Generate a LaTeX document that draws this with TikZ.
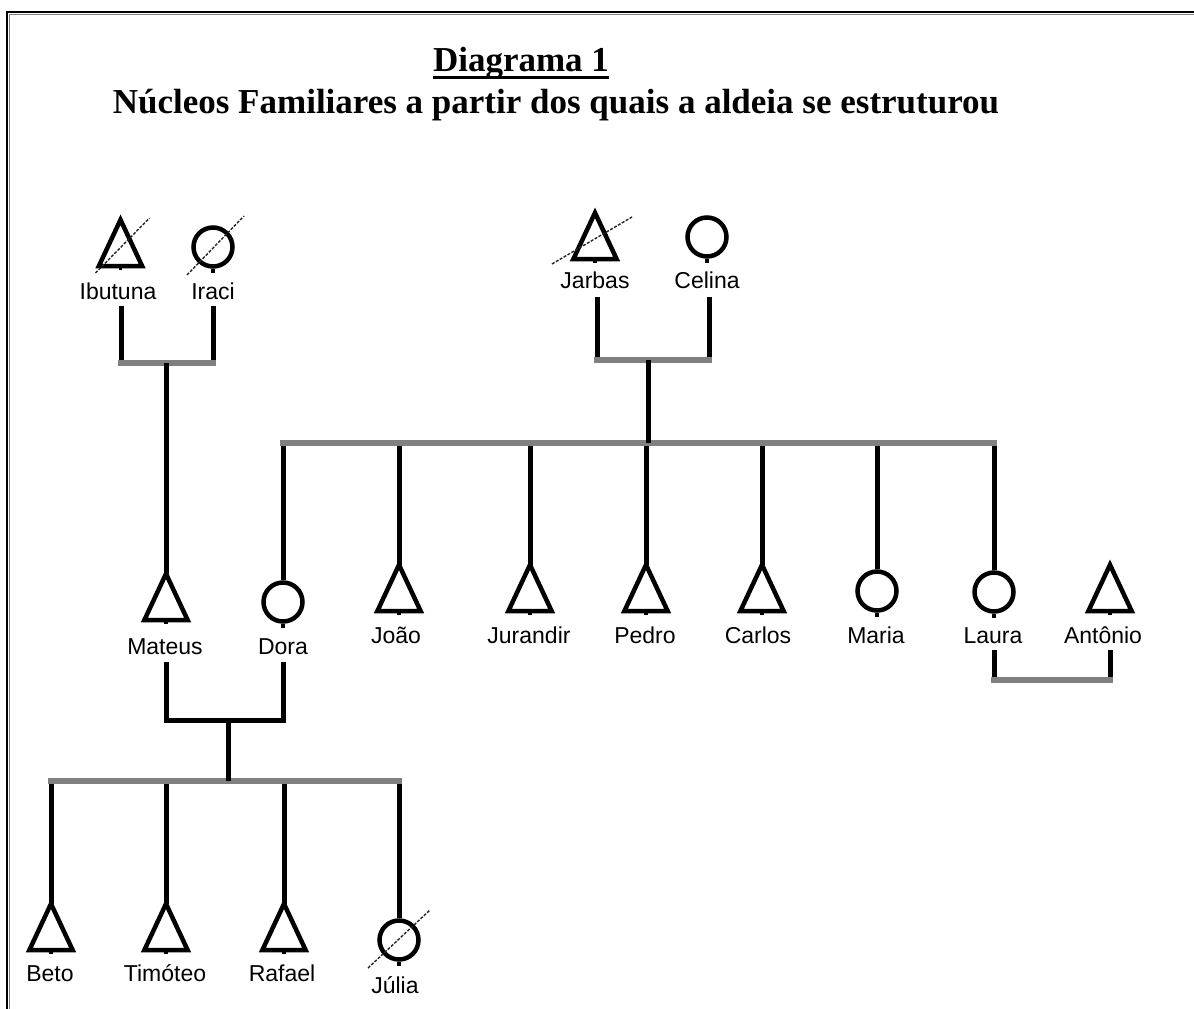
\documentclass[tikz,border=0pt]{standalone}
\usepackage{fontspec}
\setmainfont{Liberation Serif}
\newfontfamily\lblfont{Liberation Sans}
\begin{document}
\begin{tikzpicture}[x=1pt,y=-1pt,
  kin/.style={line width=5pt},
  bar/.style={line width=6pt, draw=gray, line cap=rect},
  male/.style={rectangle, minimum width=43pt, minimum height=46pt, inner sep=0pt},
  female/.style={circle, draw, line width=4.5pt, minimum size=39pt, inner sep=0pt},
  sym/.style={line width=4.5pt},
  dead/.style={line width=1.4pt, draw=black!85, dash pattern=on 3pt off 1.5pt},
  lbl/.style={anchor=base, inner sep=0pt, font=\lblfont\fontsize{23}{27}\selectfont},
  ttl/.style={anchor=base, inner sep=0pt, font=\fontsize{35}{40}\selectfont\bfseries},
]
\useasboundingbox (0,0) rectangle (1194,1009);

% page frame
\draw[line width=2pt] (7,1012) -- (7,12) -- (1196,12);
\draw[gray, line width=1pt] (9.5,1012) -- (9.5,14.5) -- (1196,14.5);

% headings
\node[ttl] (title) at (521,71) {Diagrama 1};
\draw[line width=2.8pt] ([yshift=-6.5pt]title.base west) -- ([yshift=-6.5pt]title.base east);
\node[ttl] (subtitle) at (556,113) {Núcleos Familiares a partir dos quais a aldeia se estruturou};

% people: triangles (men) and circles (women)
\node[male]   (ibutuna)  at (120.5,243) {};
\node[female] (iraci)    at (213,247) {};
\node[male]   (jarbas)   at (595,236) {};
\node[female] (celina)   at (707,237) {};
\node[male]   (mateus)   at (166,597) {};
\node[female] (dora)     at (283,602) {};
\node[male]   (joao)     at (399,588) {};
\node[male]   (jurandir) at (530,588) {};
\node[male]   (pedro)    at (646,588) {};
\node[male]   (carlos)   at (762,588) {};
\node[female] (maria)    at (877,591) {};
\node[female] (laura)    at (994,592) {};
\node[male]   (antonio)  at (1110,588) {};
\node[male]   (beto)     at (51,927) {};
\node[male]   (timoteo)  at (166,927) {};
\node[male]   (rafael)   at (284,927) {};
\node[female] (julia)    at (399,940) {};

\foreach \p in {ibutuna,jarbas,mateus,joao,jurandir,pedro,carlos,antonio,beto,timoteo,rafael}
  \draw[sym] (\p.north) -- (\p.south east) -- (\p.south west) -- cycle;
\foreach \p in {ibutuna,jarbas,mateus,joao,jurandir,pedro,carlos,antonio,beto,timoteo,rafael}
  \draw[line width=3.5pt] (\p.south) -- ++(0,-4pt);
\foreach \p in {iraci,celina,dora,maria,laura,julia}
  \draw[line width=3.5pt] (\p.south) -- ++(0,-4pt);

% deceased marks
\draw[dead] ([shift={(-25pt,-30pt)}]ibutuna.center) -- ([shift={(29pt,25pt)}]ibutuna.center);
\draw[dead] ([shift={(-26pt,-28pt)}]iraci.center) -- ([shift={(31pt,31pt)}]iraci.center);
\draw[dead] ([shift={(-43pt,-28pt)}]jarbas.center) -- ([shift={(37pt,19pt)}]jarbas.center);
\draw[dead] ([shift={(-31pt,-28pt)}]julia.center) -- ([shift={(31pt,30pt)}]julia.center);

% names
\node[lbl] (ibutunaL)  at (118,299) {Ibutuna};
\node[lbl] (iraciL)    at (213,299) {Iraci};
\node[lbl] (jarbasL)   at (595,288) {Jarbas};
\node[lbl] (celinaL)   at (707,288) {Celina};
\node[lbl] (mateusL)   at (165,654) {Mateus};
\node[lbl] (doraL)     at (283,654) {Dora};
\node[lbl] (joaoL)     at (396,643) {João};
\node[lbl] (jurandirL) at (529,643) {Jurandir};
\node[lbl] (pedroL)    at (645,643) {Pedro};
\node[lbl] (carlosL)   at (758,643) {Carlos};
\node[lbl] (mariaL)    at (876,643) {Maria};
\node[lbl] (lauraL)    at (993,643) {Laura};
\node[lbl] (antonioL)  at (1103,643) {Antônio};
\node[lbl] (betoL)     at (50,981) {Beto};
\node[lbl] (timoteoL)  at (165,981) {Timóteo};
\node[lbl] (rafaelL)   at (282,981) {Rafael};
\node[lbl] (juliaL)    at (395,993) {Júlia};

% Ibutuna + Iraci -> Mateus
\coordinate (ibutunaD) at (121,306);
\coordinate (iraciD)   at (213,306);
\coordinate (m1) at (166,363);
\draw[kin] (ibutunaD) -- (ibutunaD |- m1);
\draw[kin] (iraciD) -- (iraciD |- m1);
\draw[bar] (ibutunaD |- m1) -- (iraciD |- m1);
\draw[kin] (m1) -- (mateus.north);

% Jarbas + Celina -> their children
\coordinate (jarbasD) at (597,297);
\coordinate (celinaD) at (709,297);
\coordinate (m2) at (648,360);
\coordinate (sibs) at (648,443);
\draw[kin] (jarbasD) -- (jarbasD |- m2);
\draw[kin] (celinaD) -- (celinaD |- m2);
\draw[bar] (jarbasD |- m2) -- (celinaD |- m2);
\foreach \p in {dora,joao,jurandir,pedro,carlos,maria,laura}
  \draw[kin] (\p.north) -- (\p.north |- sibs);
\draw[bar] (dora.north |- sibs) -- (laura.north |- sibs);
\draw[kin] (m2) -- (sibs);

% Laura + Antônio
\coordinate (lauraD)   at (994,650);
\coordinate (antonioD) at (1110,650);
\coordinate (m3) at (1052,680);
\draw[kin] (lauraD) -- (lauraD |- m3);
\draw[kin] (antonioD) -- (antonioD |- m3);
\draw[bar] (lauraD |- m3) -- (antonioD |- m3);

% Mateus + Dora -> their children
\coordinate (mateusD) at (166,662);
\coordinate (doraD)   at (283,662);
\coordinate (m4) at (228,720);
\coordinate (kids) at (228,781);
\draw[kin] (mateusD) -- (mateusD |- m4) -- (doraD |- m4) -- (doraD);
\foreach \p in {beto,timoteo,rafael,julia}
  \draw[kin] (\p.north) -- (\p.north |- kids);
\draw[bar] (beto.north |- kids) -- (julia.north |- kids);
\draw[kin] (m4) -- (kids);
\end{tikzpicture}
\end{document}
